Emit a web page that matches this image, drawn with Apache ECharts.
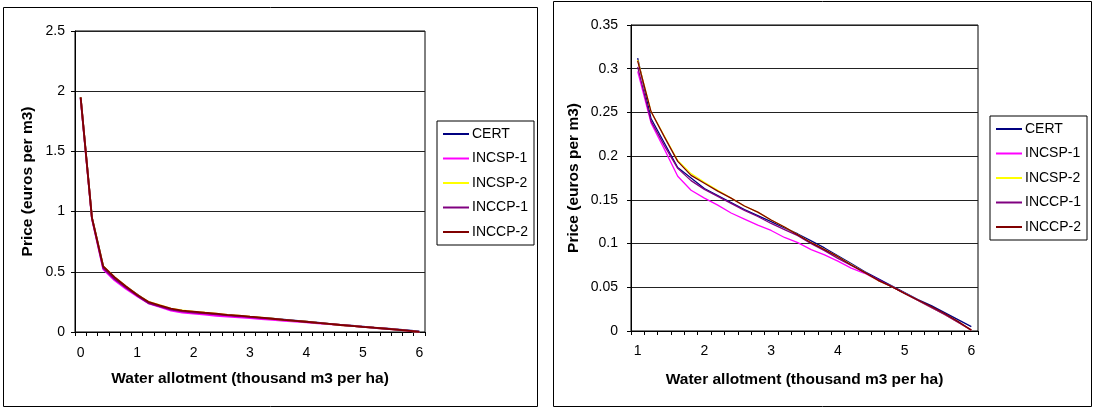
<!DOCTYPE html>
<html><head><meta charset="utf-8">
<script src="https://cdn.jsdelivr.net/npm/echarts@6/dist/echarts.min.js"></script>
<style>html,body{margin:0;padding:0;background:#fff}#c{width:1093px;height:408px}</style>
</head><body><div id="c"></div>
<script>
// ---- data ----
const seriesNames = ['CERT', 'INCSP-1', 'INCSP-2', 'INCCP-1', 'INCCP-2'];
const seriesColors = ['#000080', '#FF00FF', '#FFFF00', '#800080', '#800000'];

// Water allotment categories (thousand m3 per ha)
const xLow = ['0', '0.2', '0.4', '0.6', '0.8'];
const xHigh = ['1', '1.2', '1.4', '1.6', '1.8', '2', '2.2', '2.4', '2.6', '2.8', '3', '3.2', '3.4', '3.6', '3.8',
               '4', '4.2', '4.4', '4.6', '4.8', '5', '5.2', '5.4', '5.6', '5.8', '6'];

// Prices for allotments 0 - 0.8
const certLow   = [1.95, 0.95, 0.545, 0.45, 0.375];
const incsp1Low = [1.94, 0.94, 0.52, 0.43, 0.36];
const incsp2Low = [1.95, 0.95, 0.545, 0.455, 0.38];
const inccp1Low = [1.945, 0.945, 0.53, 0.44, 0.37];
const inccp2Low = [1.95, 0.95, 0.545, 0.455, 0.38];

// Prices for allotments 1 - 6
const certHigh   = [0.312, 0.243, 0.215, 0.187, 0.175, 0.163, 0.155, 0.147, 0.139, 0.132, 0.125, 0.118, 0.111,
                    0.103, 0.095, 0.086, 0.077, 0.068, 0.060, 0.052, 0.044, 0.036, 0.029, 0.021, 0.013, 0.005];
const incsp1High = [0.297, 0.238, 0.208, 0.177, 0.161, 0.152, 0.144, 0.135, 0.128, 0.121, 0.115, 0.107, 0.101,
                    0.093, 0.087, 0.080, 0.072, 0.066, 0.058, 0.051, 0.043, 0.035, 0.027, 0.019, 0.010, 0.001];
const incsp2High = [0.310, 0.251, 0.223, 0.195, 0.180, 0.170, 0.161, 0.152, 0.143, 0.136, 0.127, 0.119, 0.110,
                    0.101, 0.093, 0.085, 0.076, 0.067, 0.058, 0.051, 0.043, 0.035, 0.027, 0.019, 0.010, 0.001];
const inccp1High = [0.302, 0.240, 0.212, 0.186, 0.172, 0.162, 0.154, 0.146, 0.138, 0.131, 0.123, 0.116, 0.109,
                    0.100, 0.092, 0.083, 0.075, 0.067, 0.059, 0.051, 0.043, 0.035, 0.027, 0.019, 0.010, 0.001];
const inccp2High = [0.309, 0.251, 0.222, 0.194, 0.178, 0.169, 0.160, 0.152, 0.143, 0.136, 0.127, 0.119, 0.110,
                    0.101, 0.093, 0.085, 0.0755, 0.067, 0.058, 0.051, 0.043, 0.0355, 0.028, 0.020, 0.011, 0.001];

const xTitle = 'Water allotment (thousand m3 per ha)';
const yTitle = 'Price (euros per m3)';

// ---- build ----
const lowSets = [certLow, incsp1Low, incsp2Low, inccp1Low, inccp2Low];
const highSets = [certHigh, incsp1High, incsp2High, inccp1High, inccp2High];
const xFull = xLow.concat(xHigh);

const FONT = 'Liberation Sans, Arial, sans-serif';
const chart = echarts.init(document.getElementById('c'), null, {renderer: 'canvas'});

function xAxisCfg(gridIndex, data, margin, gap) {
  return {
    type: 'category', gridIndex, data, boundaryGap: true,
    name: xTitle, nameLocation: 'middle', nameGap: gap,
    nameTextStyle: {fontFamily: FONT, fontSize: 15.5, fontWeight: 'bold', color: '#000'},
    axisLine: {lineStyle: {color: '#000', width: 1}},
    axisTick: {show: true, interval: 0, length: 4, lineStyle: {color: '#000'}},
    axisLabel: {interval: 4, margin, fontFamily: FONT, fontSize: 14, color: '#000'},
    splitLine: {show: false}
  };
}
function yAxisCfg(gridIndex, max, interval, margin, gap) {
  return {
    type: 'value', gridIndex, min: 0, max, interval,
    name: yTitle, nameLocation: 'middle', nameGap: gap, nameRotate: 90,
    nameTextStyle: {fontFamily: FONT, fontSize: 15.5, fontWeight: 'bold', color: '#000'},
    axisLine: {show: true, lineStyle: {color: '#000', width: 1}},
    axisTick: {show: true, length: 4, lineStyle: {color: '#000'}},
    axisLabel: {margin, fontFamily: FONT, fontSize: 14, color: '#000',
      formatter: v => String(Math.round(v * 100) / 100)},
    splitLine: {show: true, lineStyle: {color: '#222', width: 1}}
  };
}
function legendCfg(left, top) {
  return {
    data: seriesNames, orient: 'vertical', left, top,
    icon: 'rect', itemWidth: 26, itemHeight: 2, itemGap: 8.5,
    padding: [5, 6, 5, 6],
    borderColor: '#000', borderWidth: 1, backgroundColor: '#fff',
    selectedMode: false,
    textStyle: {fontFamily: FONT, fontSize: 14, color: '#000', lineHeight: 16, padding: [0, 0, 0, -2]}
  };
}

const series = [];
seriesNames.forEach((name, k) => {
  series.push({
    name, type: 'line', xAxisIndex: 0, yAxisIndex: 0,
    data: lowSets[k].concat(highSets[k]),
    symbol: 'none', animation: false,
    lineStyle: {color: seriesColors[k], width: 1.8}, itemStyle: {color: seriesColors[k]}
  });
  series.push({
    name, type: 'line', xAxisIndex: 1, yAxisIndex: 1,
    data: highSets[k],
    symbol: 'none', animation: false,
    lineStyle: {color: seriesColors[k], width: 1.3}, itemStyle: {color: seriesColors[k]}
  });
});

chart.setOption({
  backgroundColor: '#fff',
  animation: false,
  grid: [
    {left: 75, top: 31, width: 350, height: 301, show: true, borderColor: '#000', borderWidth: 1, backgroundColor: '#fff'},
    {left: 631, top: 25, width: 347, height: 306, show: true, borderColor: '#000', borderWidth: 1, backgroundColor: '#fff'}
  ],
  xAxis: [xAxisCfg(0, xFull, 14, 39), xAxisCfg(1, xHigh, 13, 41)],
  yAxis: [yAxisCfg(0, 2.5, 0.5, 10, 39), yAxisCfg(1, 0.35, 0.05, 13, 49)],
  legend: [legendCfg(437, 121), legendCfg(990, 116)],
  graphic: [
    {type: 'rect', shape: {x: 3.5, y: 7.5, width: 534, height: 399}, style: {fill: null, stroke: '#000', lineWidth: 1}, silent: true, z: 100},
    {type: 'rect', shape: {x: 553.5, y: 1.5, width: 538, height: 405}, style: {fill: null, stroke: '#000', lineWidth: 1}, silent: true, z: 100}
  ],
  series
});
</script>
</body></html>
